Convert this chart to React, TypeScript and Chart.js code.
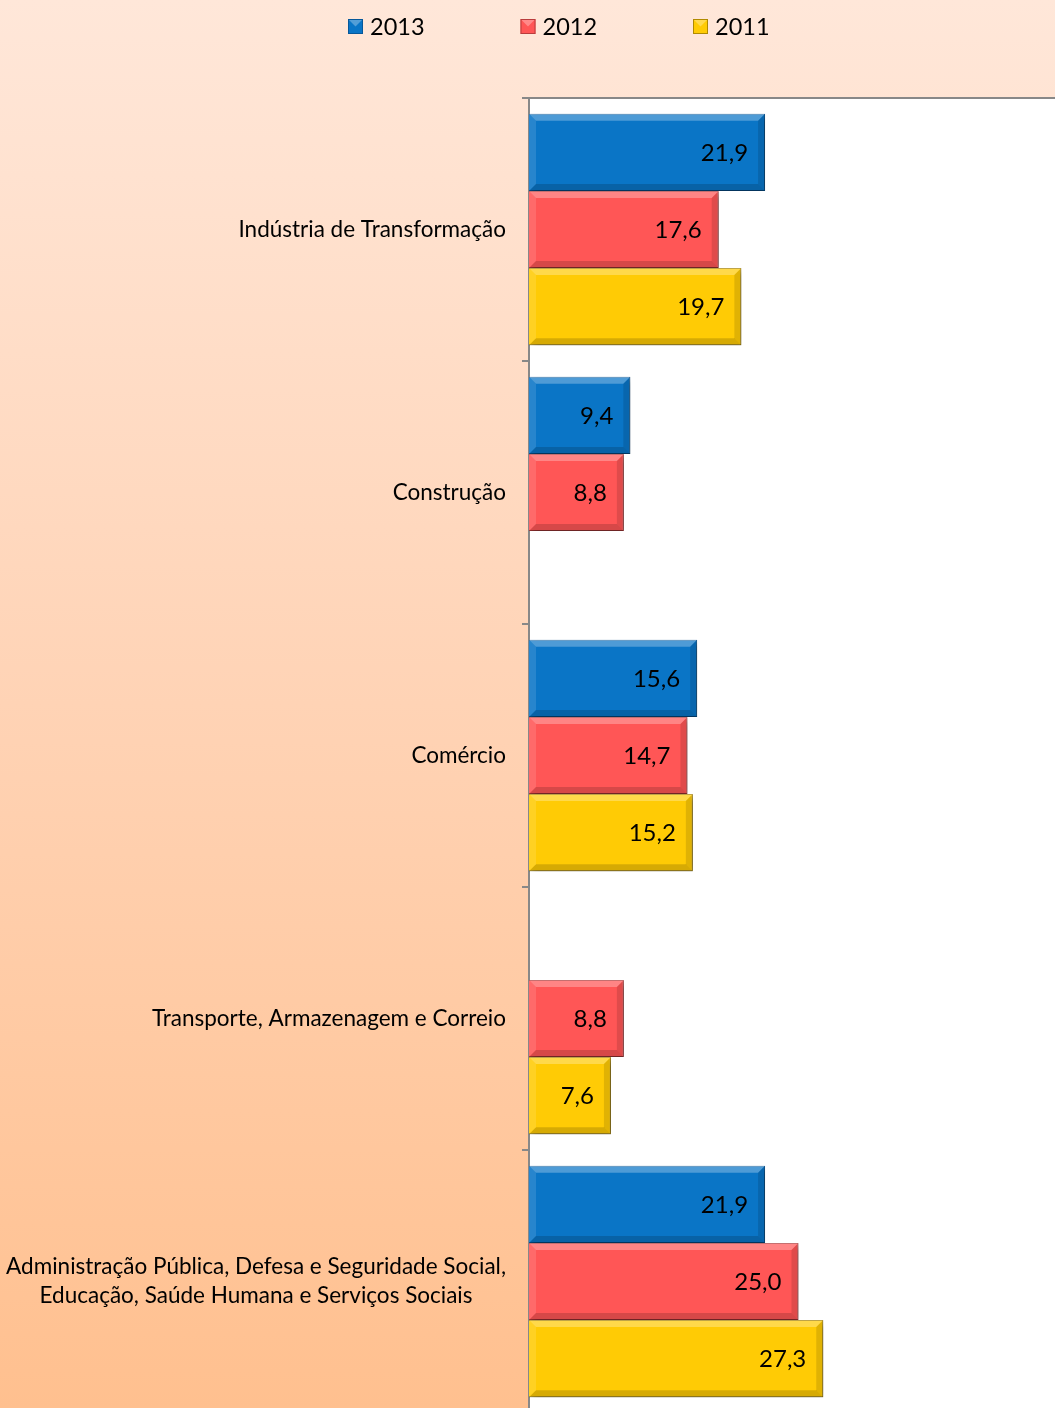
import React, { useEffect, useRef } from "react";
import { Chart, registerables } from "chart.js";

Chart.register(...registerables);

const categories: string[][] = [
  ["Indústria de Transformação"],
  ["Construção"],
  ["Comércio"],
  ["Transporte, Armazenagem e Correio"],
  ["Administração Pública, Defesa e Seguridade Social,", "Educação, Saúde Humana e Serviços Sociais"],
];
const seriesLabels = ["2013", "2012", "2011"];
const values2013 = [21.9, 9.4, 15.6, null, 21.9];
const values2012 = [17.6, 8.8, 14.7, 8.8, 25.0];
const values2011 = [19.7, null, 15.2, 7.6, 27.3];
const seriesColors = ["#0A75C6", "#FF5656", "#FFCB05"];
const seriesBorders = ["#06589A", "#B93C3C", "#B08A00"];

const FONT = "Lato, 'Open Sans', sans-serif";

const fmt = (v: number) => v.toFixed(1).replace(".", ",");

const backgroundPlugin = {
  id: "bgPlugin",
  beforeDraw(chart: any) {
    const { ctx, width, chartArea } = chart;
    const h = 1408;
    ctx.save();
    const g = ctx.createLinearGradient(0, 0, 0, h);
    g.addColorStop(0, "#FFE7D9");
    g.addColorStop(0.5, "#FFD3B5");
    g.addColorStop(1, "#FFC08F");
    ctx.fillStyle = g;
    ctx.fillRect(0, 0, width, chart.height);
    ctx.fillStyle = "#FFFFFF";
    ctx.fillRect(chartArea.left, chartArea.top, chartArea.right - chartArea.left, chartArea.bottom - chartArea.top);
    ctx.restore();
  },
};

const shadowPlugin = {
  id: "shadowPlugin",
  beforeDatasetsDraw(chart: any) {
    const ctx = chart.ctx;
    ctx.save();
    ctx.shadowColor = "rgba(0,0,0,0.4)";
    ctx.shadowBlur = 7;
    ctx.shadowOffsetX = 3;
    ctx.shadowOffsetY = 3;
  },
  afterDatasetsDraw(chart: any) {
    const ctx = chart.ctx;
    ctx.restore();
    const b = 7;
    chart.data.datasets.forEach((ds: any, di: number) => {
      const meta = chart.getDatasetMeta(di);
      meta.data.forEach((el: any, i: number) => {
        const v = ds.data[i];
        if (v === null || v === undefined) return;
        const p = el.getProps(["x", "y", "base", "height"], true);
        const x0 = p.base;
        const x1 = p.x;
        const yT = p.y - p.height / 2;
        const yB = p.y + p.height / 2;
        ctx.save();
        ctx.fillStyle = "rgba(255,255,255,0.28)";
        ctx.beginPath();
        ctx.moveTo(x0, yT);
        ctx.lineTo(x1, yT);
        ctx.lineTo(x1 - b, yT + b);
        ctx.lineTo(x0 + b, yT + b);
        ctx.closePath();
        ctx.fill();
        ctx.fillStyle = "rgba(255,255,255,0.12)";
        ctx.beginPath();
        ctx.moveTo(x0, yT);
        ctx.lineTo(x0 + b, yT + b);
        ctx.lineTo(x0 + b, yB - b);
        ctx.lineTo(x0, yB);
        ctx.closePath();
        ctx.fill();
        ctx.fillStyle = "rgba(0,0,0,0.16)";
        ctx.beginPath();
        ctx.moveTo(x0, yB);
        ctx.lineTo(x1, yB);
        ctx.lineTo(x1 - b, yB - b);
        ctx.lineTo(x0 + b, yB - b);
        ctx.closePath();
        ctx.fill();
        ctx.fillStyle = "rgba(0,0,0,0.12)";
        ctx.beginPath();
        ctx.moveTo(x1, yT);
        ctx.lineTo(x1, yB);
        ctx.lineTo(x1 - b, yB - b);
        ctx.lineTo(x1 - b, yT + b);
        ctx.closePath();
        ctx.fill();
        ctx.fillStyle = "#000000";
        ctx.font = `24px ${FONT}`;
        ctx.textAlign = "right";
        ctx.textBaseline = "middle";
        ctx.fillText(fmt(v), x1 - 17, p.y + 1);
        ctx.restore();
      });
    });
  },
};

const labelsPlugin = {
  id: "labelsPlugin",
  afterDraw(chart: any) {
    const { ctx } = chart;
    const yScale = chart.scales.y;
    ctx.save();
    ctx.fillStyle = "#000000";
    ctx.font = `22.5px ${FONT}`;
    ctx.textBaseline = "middle";
    const rightX = 506;
    const lh = 29;
    categories.forEach((lines, i) => {
      const cy = yScale.getPixelForValue(i);
      if (lines.length === 1) {
        ctx.textAlign = "right";
        ctx.fillText(lines[0], rightX, cy);
      } else {
        const maxW = Math.max(...lines.map((l) => ctx.measureText(l).width));
        const cx = rightX - maxW / 2;
        ctx.textAlign = "center";
        lines.forEach((l, k) => {
          ctx.fillText(l, cx, cy + (k - (lines.length - 1) / 2) * lh);
        });
      }
    });
    const startX = 348;
    const step = 172.5;
    ctx.font = `23.5px ${FONT}`;
    ctx.textAlign = "left";
    seriesLabels.forEach((lab, k) => {
      const bx = startX + k * step;
      const by = 19;
      const s = 15;
      ctx.fillStyle = seriesColors[k];
      ctx.fillRect(bx, by, s, s);
      ctx.fillStyle = "rgba(255,255,255,0.3)";
      ctx.beginPath();
      ctx.moveTo(bx, by);
      ctx.lineTo(bx + s, by);
      ctx.lineTo(bx + s / 2, by + s / 2);
      ctx.closePath();
      ctx.fill();
      ctx.strokeStyle = seriesBorders[k];
      ctx.lineWidth = 1;
      ctx.strokeRect(bx + 0.5, by + 0.5, s - 1, s - 1);
      ctx.fillStyle = "#000000";
      ctx.fillText(lab, bx + 22, by + s / 2 + 1);
    });
    ctx.restore();
  },
};

export default function App() {
  const ref = useRef<HTMLCanvasElement | null>(null);
  useEffect(() => {
    if (!ref.current) return;
    const chart = new Chart(ref.current, {
      type: "bar",
      data: {
        labels: categories.map((c) => c.join(" ")),
        datasets: [values2013, values2012, values2011].map((d, k) => ({
          label: seriesLabels[k],
          data: d,
          backgroundColor: seriesColors[k],
          borderColor: seriesBorders[k],
          borderWidth: 1,
          categoryPercentage: 0.88,
          barPercentage: 1.0,
        })),
      },
      options: {
        indexAxis: "y",
        animation: false,
        responsive: true,
        maintainAspectRatio: false,
        layout: { padding: { top: 90, right: 0, bottom: 0, left: 0 } },
        plugins: {
          legend: { display: false },
          tooltip: { enabled: false },
        },
        scales: {
          x: {
            position: "top",
            min: 0,
            max: 48.8,
            ticks: { display: false },
            grid: { display: false },
            border: { display: true, color: "#888888", width: 2 },
          },
          y: {
            position: "left",
            ticks: { display: false },
            grid: {
              display: true,
              offset: true,
              drawOnChartArea: false,
              drawTicks: true,
              tickLength: 7,
              color: "#888888",
              lineWidth: 2,
            },
            border: { display: true, color: "#888888", width: 2 },
            afterFit: (scale: any) => {
              scale.width = 529;
            },
          },
        },
      },
      plugins: [backgroundPlugin, shadowPlugin, labelsPlugin],
    } as any);
    return () => chart.destroy();
  }, []);
  return (
    <div style={{ position: "fixed", left: 0, top: 0, width: 1055, height: 1408, overflow: "hidden" }}>
      <div style={{ position: "relative", width: 1055, height: 1413 }}>
        <canvas ref={ref} />
      </div>
    </div>
  );
}
